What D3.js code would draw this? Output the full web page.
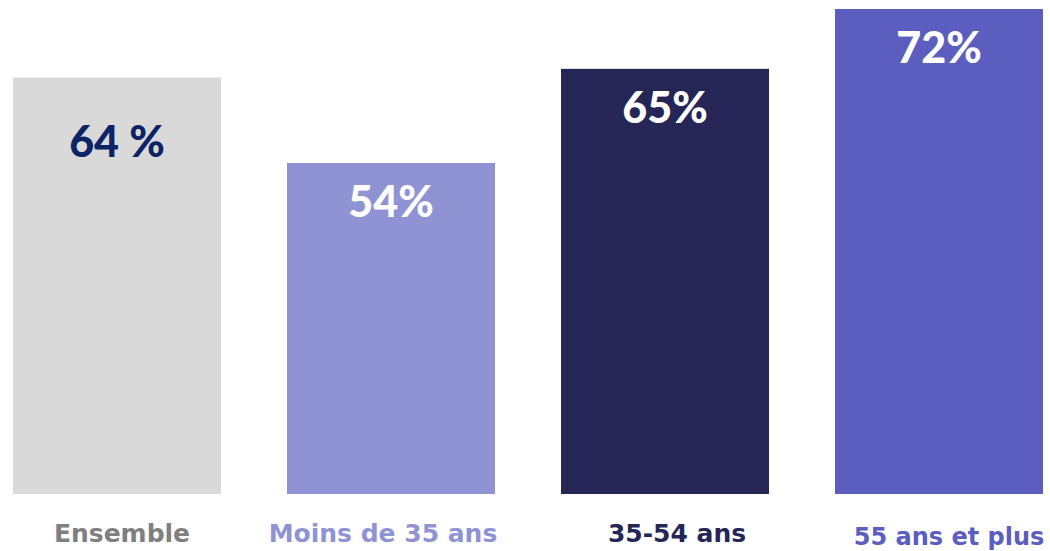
<!DOCTYPE html>
<html>
<head>
<meta charset="utf-8">
<script src="https://cdn.jsdelivr.net/npm/d3@7"></script>
<style>
    body { margin: 0; background: #fff; }
    svg { display: block; }
    text { font-family: "DejaVu Sans", sans-serif; font-weight: bold; }
    text.value { font-family: Lato, sans-serif; font-weight: 900; }
</style>
</head>
<body>
<div id="chart"></div>
<script>
var categories = ["Ensemble", "Moins de 35 ans", "35-54 ans", "55 ans et plus"];
var values = [64, 54, 65, 72];
var valueLabels = ["64 %", "54%", "65%", "72%"];

var barColors = ["#d9d9d9", "#8f93d4", "#252656", "#5b5ebf"];
var catColors = ["#7f7f7f", "#8f93d4", "#252656", "#5b5ebf"];
// petits décalages des libellés sous les barres
var catShift = [5, -8, 12, 10];

var width = 1050,
    height = 551;

var svg = d3.select("#chart").append("svg")
    .attr("width", width)
    .attr("height", height);

var x = d3.scaleBand()
    .domain(categories)
    .range([13, 1043])
    .paddingInner(0.2409)
    .paddingOuter(0);

// l'axe ne part pas de zéro
var y = d3.scaleLinear()
    .domain([15.3, 72])
    .range([494, 9]);

var g = svg.selectAll(".bar")
    .data(categories)
    .enter().append("g")
    .attr("class", "bar");

g.append("rect")
    .attr("x", function (d) { return x(d); })
    .attr("y", function (d, i) { return y(values[i]); })
    .attr("width", x.bandwidth())
    .attr("height", function (d, i) { return y.range()[0] - y(values[i]); })
    .style("fill", function (d, i) { return barColors[i]; });

// valeurs
g.append("text")
    .attr("class", "value")
    .attr("text-anchor", "middle")
    .attr("x", function (d) { return x(d) + x.bandwidth() / 2; })
    .attr("y", function (d, i) { return y(values[i]) + (i === 0 ? 80 : 54); })
    .attr("font-size", 43)
    .style("fill", function (d, i) { return i === 0 ? "#0b2466" : "#fff"; })
    .text(function (d, i) { return valueLabels[i]; });

// catégories
g.append("text")
    .attr("text-anchor", "middle")
    .attr("x", function (d, i) { return x(d) + x.bandwidth() / 2 + catShift[i]; })
    .attr("y", function (d, i) { return i === 3 ? 545 : 542; })
    .attr("font-size", function (d, i) { return i === 3 ? 24 : 25; })
    .style("fill", function (d, i) { return catColors[i]; })
    .text(function (d) { return d; });
</script>
</body>
</html>
